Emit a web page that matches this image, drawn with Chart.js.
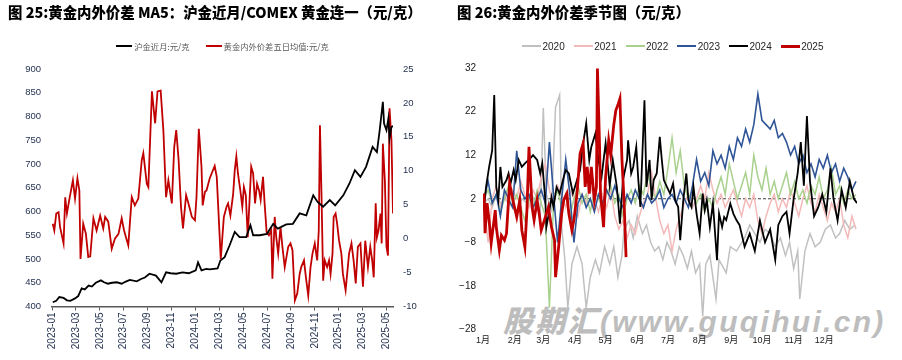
<!DOCTYPE html>
<html><head><meta charset="utf-8">
<script src="https://cdn.jsdelivr.net/npm/chart.js@4.4.1/dist/chart.umd.min.js"></script>
<style>
html,body{margin:0;padding:0;background:#fff;width:902px;height:360px;overflow:hidden;font-family:'Noto Sans CJK SC',sans-serif;}
.panel{position:absolute;top:0;height:360px;}
#p1{left:0;width:450px;} #p2{left:450px;width:452px;}
canvas{position:absolute;left:0;top:0;}
.title{position:absolute;top:4px;font-weight:900;font-size:14.4px;line-height:16px;color:#000;white-space:nowrap;font-family:'Noto Sans CJK SC',sans-serif;}
.legend{position:absolute;top:39px;height:14px;display:flex;align-items:center;white-space:nowrap;}
.item{display:flex;align-items:center;}
.swatch{display:inline-block;}
#lg1{left:52px;width:341px;justify-content:center;gap:16px;font-size:8.3px;color:#595959;}
#lg1 .swatch{width:16px;height:2px;margin-right:2px;}
#lg2{left:72px;gap:9px;font-size:10px;color:#262626;font-family:'Liberation Sans Narrow','Liberation Sans',sans-serif;}
#lg2 .swatch{width:19px;margin-right:1.5px;}
.wm{position:absolute;left:53px;top:304px;font-family:'Liberation Sans','Noto Sans CJK SC',sans-serif;font-weight:900;font-style:italic;font-size:30px;line-height:36px;letter-spacing:2.3px;color:#bdbdbd;white-space:nowrap;}
</style>
</head><body>
<div class="panel" id="p1">
  <canvas id="c1" width="450" height="360"></canvas>
  <div class="title" style="left:8px;">图 25:黄金内外价差 MA5：沪金近月/COMEX 黄金连一（元/克）</div>
  <div class="legend" id="lg1"></div>
</div>
<div class="panel" id="p2">
  <div class="wm">股期汇(www.guqihui.cn)</div>
  <canvas id="c2" width="452" height="360"></canvas>
  <div class="title" style="left:7px;">图 26:黄金内外价差季节图（元/克）</div>
  <div class="legend" id="lg2"></div>
</div>
<script>
// ---------- Left chart data ----------
const leftXTicks = ['2023-01','2023-03','2023-05','2023-07','2023-09','2023-11','2024-01','2024-03','2024-05','2024-07','2024-09','2024-11','2025-01','2025-03','2025-05'];
const leftYTicks = [400,450,500,550,600,650,700,750,800,850,900];
const rightYTicks = [-10,-5,0,5,10,15,20,25];
const leftXEnd = '2025-05-18';

const goldDates = ['2023-01-03','2023-01-12','2023-01-20','2023-01-31','2023-02-08','2023-02-16','2023-02-27','2023-03-07','2023-03-16','2023-03-24',
'2023-04-03','2023-04-11','2023-04-21','2023-05-04','2023-05-12','2023-05-22','2023-06-02','2023-06-14','2023-06-26','2023-07-05',
'2023-07-17','2023-08-04','2023-08-15','2023-08-25','2023-09-06','2023-09-22','2023-10-06','2023-10-18','2023-10-30','2023-11-13',
'2023-11-29','2023-12-15','2024-01-02','2024-01-08','2024-01-17','2024-01-29','2024-02-07','2024-02-26','2024-03-04','2024-03-15',
'2024-03-28','2024-04-10','2024-04-22','2024-05-09','2024-05-20','2024-05-27','2024-06-13','2024-07-01','2024-07-17','2024-07-29',
'2024-08-20','2024-09-06','2024-09-23','2024-10-10','2024-10-28','2024-11-08','2024-11-22','2024-12-09','2024-12-23','2025-01-13',
'2025-01-29','2025-02-11','2025-02-24','2025-03-10','2025-03-27','2025-04-07','2025-04-14','2025-04-22','2025-04-25','2025-05-01',
'2025-05-06','2025-05-09','2025-05-14','2025-05-19'];
const goldPrice = [409,412,420,418,413,412,417,422,438,436,
444,442,450,455,451,448,450,451,448,452,
456,453,458,461,469,465,451,472,470,469,
472,470,476,493,476,479,478,480,497,504,
529,557,546,546,571,550,550,553,574,564,
573,574,596,592,634,620,610,624,613,634,
659,687,673,694,736,725,771,831,785,771,
796,754,778,780];

const spreadDates = ['2023-01-03','2023-01-07','2023-01-12','2023-01-18','2023-01-22','2023-01-31','2023-02-04','2023-02-08','2023-02-14','2023-02-22',
'2023-02-27','2023-03-05','2023-03-10','2023-03-13','2023-03-20','2023-03-27','2023-04-02','2023-04-07','2023-04-15','2023-04-23',
'2023-05-02','2023-05-10','2023-05-15','2023-05-23','2023-06-01','2023-06-09','2023-06-18','2023-06-26','2023-07-02','2023-07-13',
'2023-07-22','2023-07-30','2023-08-08','2023-08-17','2023-08-21','2023-08-30','2023-09-03','2023-09-12','2023-09-20','2023-09-26',
'2023-10-04','2023-10-11','2023-10-18','2023-10-24','2023-11-02','2023-11-08','2023-11-13','2023-11-19','2023-11-25','2023-11-30',
'2023-12-08','2023-12-14','2023-12-23','2023-12-31','2024-01-04','2024-01-10','2024-01-17','2024-01-20','2024-01-26','2024-01-30',
'2024-02-07','2024-02-19','2024-02-24','2024-03-05','2024-03-13','2024-03-20','2024-03-24','2024-03-30','2024-04-06','2024-04-10',
'2024-04-14','2024-04-18','2024-04-24','2024-04-29','2024-05-03','2024-05-08','2024-05-13','2024-05-22','2024-05-27','2024-06-01',
'2024-06-06','2024-06-11','2024-06-15','2024-06-21','2024-06-25','2024-06-30','2024-07-06','2024-07-12','2024-07-15','2024-07-21',
'2024-07-25','2024-07-30','2024-08-05','2024-08-10','2024-08-16','2024-08-25','2024-08-31','2024-09-05','2024-09-11','2024-09-17',
'2024-09-23','2024-09-27','2024-10-04','2024-10-09','2024-10-15','2024-10-21','2024-10-26','2024-11-01','2024-11-07','2024-11-11',
'2024-11-14','2024-11-18','2024-11-22','2024-11-26','2024-12-02','2024-12-07','2024-12-11','2024-12-16','2024-12-19','2024-12-24',
'2024-12-28','2025-01-02','2025-01-08','2025-01-12','2025-01-19','2025-01-28','2025-02-03','2025-02-08','2025-02-13','2025-02-18',
'2025-02-24','2025-03-02','2025-03-08','2025-03-15','2025-03-21','2025-03-26','2025-03-30','2025-04-04','2025-04-07','2025-04-11',
'2025-04-16','2025-04-19','2025-04-22','2025-04-27','2025-05-01','2025-05-05','2025-05-09','2025-05-14','2025-05-18','2025-05-20'];
const spreadMA5 = [2.2,1.2,3.7,3.9,1.7,-0.7,6.1,3.7,5.9,8.6,
5.9,8.9,7.1,-3.0,2.2,0.7,-2.7,-2.6,3.0,1.2,
3.4,1.5,3.2,2.5,-1.5,0.0,0.7,3.0,1.2,-1.0,
6.1,4.9,5.9,11.6,12.6,8.1,7.6,21.7,17.0,21.7,
21.8,16.0,6.1,8.6,5.2,13.5,16.0,11.6,4.7,1.5,
6.4,5.2,3.2,2.7,6.1,16.2,10.6,4.9,6.9,7.1,
8.9,10.7,9.1,-3.0,3.2,4.7,5.2,3.4,6.6,10.1,
12.1,9.6,7.1,4.7,7.6,6.4,0.2,10.6,9.6,5.2,
8.1,7.1,5.7,9.1,5.2,1.0,0.5,1.2,-5.9,3.2,
0.2,-2.2,1.7,-1.2,-4.2,-1.2,-0.7,-1.7,-9.1,-8.1,
-5.2,-4.2,-3.2,-5.7,-8.4,-4.2,-2.2,-0.7,-3.2,1.2,
16.7,6.1,-6.2,-3.2,-4.2,-3.2,-5.2,-2.2,3.2,3.7,
2.2,-0.3,-2.2,-5.2,-7.6,-2.2,-0.7,-3.2,-6.6,-1.2,
-0.7,-7.1,-0.3,-4.2,-1.2,-3.2,-5.7,5.2,0.2,1.2,
3.7,-0.7,14.0,8.6,-1.2,-2.5,19.2,14.5,3.7,6.1];

// ---------- Right (seasonal) chart data ----------
const seasonYTicks = [-28,-18,-8,2,12,22,32];
const monthLabels = ['1月','2月','3月','4月','5月','6月','7月','8月','9月','10月','11月','12月'];
const monthStartDays = [0,31,59,90,120,151,181,212,243,273,304,334];
const refLevel = 2;

const d2020 = [1,5,9,13,17,21,25,33,38,43,48,52,56,59,62,67,71,75,77,80,83,87,92,97,101,105,110,114,119,124,128,132,136,138,143,147,151,156,160,164,168,172,176,180,184,188,192,196,200,204,208,212,215,218,222,228,231,238,242,248,256,261,266,271,276,281,286,291,296,300,304,308,310,315,320,325,330,335,340,345,349,354,359,364];
const v2020 = [1,2,0,3,1,2,1,-1,2,1,3,0,-2,22.8,3,-0.6,23,25.8,-4.5,-11.6,-23,-13,-9,-13,-23,-16,-12,-15,-9,-13,-9,-16,-11,-5,-3,-7,-2,-6,-4,-8,-10,-9,-12,-8,-10,-13,-9,-11,-14,-10,-15,-13,-25,-13,-11,-21,-12,-15,-9,-10,-7,-4,-6,-8,-5,-6,-9,-7,-11,-8,-14,-10,-21,-10,-6,-9,-8,-5,-4,-7,-6,-3,-5,-4];

const v2021 = [1,-8,2,5,0,3,1,4,2,6, 3,0,4,2,7,10,4,1,5,3, 0,4,2,-2,3,1,5,2,-1,3, 0,4,-2,-5,-3,-7,-4,-6,-2,1,
3,8,2,-3,-6,-4,-10,-5,-2,1, 3,0,2,5,2,8,4,1,3,0, 2,4,1,-2,2,0,3,-3,-6,-2, 1,3,-1,2,0,4,1,-2,2,5, 1,-1,3,0,-3,1,-1,2,-4,-7, -2,-5];
const v2022 = [2,4,1,3,-1,2,5,1,3,0, -3,2,0,4,1,-2,-23,1,4,0, 3,-2,2,5,1,3,-1,4,2,0, 3,5,1,3,-2,2,4,1,5,3,
8,4,2,6,3,9,16,8,13,5, 2,4,1,3,-1,2,0,4,7,3, 10,6,2,5,8,3,12,7,4,9, 3,6,2,5,8,3,6,2,4,1, 5,3,7,2,4,9,3,5,1,4, 2,3];
const v2023 = [2,6,1,3,-2,4,2,0,13,4, 2,3,0,2,4,1,15,3,-8,2, 11,3,-8,1,3,0,2,-1,3,1, 4,2,5,2,0,3,1,4,2,0,
3,1,2,4,0,2,3,1,4,2, 0,5,11,6,8,5,13,10,12,9, 14,11,16,14,18,15,19,26,20,19, 18,20,16,17,15,12,14,10,12,8, 10,7,11,9,12,8,10,6,9,7, 4,6];

const d2024 = [1,3,6,9,11,13,15,17,19,23, 25,27,30,32,35,38,41,46,49,53, 56,58,61,62,65,67,69,72,75,79, 81,84,88,92,95,98,101,104,106,110,
113,116,120,124,127,131,134,137,141,142, 145,147,150,152,154,156,158,160,163,165, 167,170,173,175,177,180,183,186,188,191, 193,196,199,201,204,206,209,212,215,217,
219,222,225,229,231,234,236,238,242,245, 248,251,256,261,266,271,276,281,286,289, 293,297,300,304,308,311,314,317,320,324, 328,332,336,340,343,347,351,355,359,363, 366];
const v2024 = [0.1,4.7,9.3,13.1,25.8,4.7,1.7,9.3,4.7,6.3, 7.8,5.5,8.6,6.3,10.9,9.3,10.1,11.2,12,10.9, 7.8,10.1,1.7,-4.5,-0.6,2.4,0.1,4.7,3.2,7, 8.6,7.8,3.2,6.3,8.6,14.7,19.3,10.9,13.9,17,
10.9,7,14.7,5,10.9,4.7,-3.7,6.3,10.9,15.4, 7.8,9.3,13.9,6.3,0.1,12.4,24.6,4.7,10.9,1.7, 6.3,7.8,16.2,10.9,6.3,4.7,3.2,5.5,1.7,0.1, -7.5,1.7,7.8,1.7,0.1,4.7,-1.4,-6,3.2,-0.6,
1.7,-4.5,0.9,-12.1,-1.4,-4.5,-2.2,-2.9,0.9,-1.4, -2.9,-4,-9,-6,-10,-3,-8,-5,-12,-4, -2,-1,-6,2,8,15,5,21,6,-2, 0,3,-1,9,2,-3,4,0,6,2, 1];

const d2025 = [1,2,4,6,8,12,13,16,18,21, 23,26,30,33,36,38,41,43,45,48, 50,53,55,57,61,64,67,70,71,74, 77,79,82,84,87,89,92,95,98,100, 102,104,106,109,111,112,114,115,118,120, 123,125,128,130,132,134,136,138,140];
const v2025 = [3.2,-5.9,1,-3,-8.2,-0.6,-4.5,-9.8,-6.4,-7.5, -6,5.5,0.9,-2.2,1.7,-5.2,-9.1,-0.6,13.9,0.1, -2.9,1.7,-1.4,-5.2,-2.2,0.1,-4.5,-7.5,-16,-9.1, -1.4,1.7,3.2,-1.4,-5.2,-2.9,3.2,12.4,14.7,4.7, 9.3,3.2,9.3,1.7,4.7,31.9,14.7,3.2,-4.5,7, 15.4,12,19,22.3,23.5,25,10.9,1.7,-11.4];

// ---------- helpers ----------
function monthIndex(s){
  const p = s.split('-').map(Number);
  const y = p[0], m = p[1], d = p.length > 2 ? p[2] : 1;
  const dim = new Date(y, m, 0).getDate();
  return (y - 2023) * 12 + (m - 1) + (d - 1) / dim;
}
function zip(xs, ys, fx){ const n = Math.min(xs.length, ys.length); const out=[]; for(let i=0;i<n;i++) out.push({x: fx ? fx(xs[i]) : xs[i], y: ys[i]}); return out; }
const grid4 = v2021.map((_, i) => 1 + 4 * i);

const narrow = "'Liberation Sans Narrow','Liberation Sans','Noto Sans CJK SC',sans-serif";

// ---------- Left chart ----------
new Chart(document.getElementById('c1'), {
  type: 'line',
  data: { datasets: [
    { label: '沪金近月:元/克', data: zip(goldDates, goldPrice, monthIndex), borderColor: '#000000', backgroundColor:'#000000', borderWidth: 1.8, pointRadius: 0, yAxisID: 'yL', order: 0 },
    { label: '黄金内外价差五日均值:元/克', data: zip(spreadDates, spreadMA5, monthIndex), borderColor: '#c00000', backgroundColor:'#c00000', borderWidth: 1.8, pointRadius: 0, yAxisID: 'yR', order: 1 }
  ]},
  options: {
    responsive: false, animation: false, devicePixelRatio: 1,
    layout: { padding: { top: 69, left: 0, right: 0, bottom: 0 } },
    plugins: { legend: { display: false }, tooltip: { enabled: false } },
    scales: {
      x: { type: 'linear', position: 'bottom', min: 0, max: monthIndex(leftXEnd),
        afterBuildTicks: s => { s.ticks = leftXTicks.map(t => ({ value: monthIndex(t) })); },
        ticks: { autoSkip: false, minRotation: 90, maxRotation: 90, padding: 2, color: '#1f2d4d',
          font: { family: narrow, size: 10 }, callback: (v, i) => leftXTicks[i] },
        grid: { drawOnChartArea: false, drawTicks: true, tickLength: 4, color: '#595959', lineWidth: 1 },
        border: { display: true, color: '#595959', width: 1.5 },
        afterFit: s => { s.height = 53.5; } },
      yL: { type: 'linear', position: 'left', min: leftYTicks[0], max: leftYTicks[leftYTicks.length-1],
        afterBuildTicks: s => { s.ticks = leftYTicks.map(v => ({ value: v })); },
        ticks: { padding: 11, color: '#1f2d4d', font: { family: narrow, size: 9.5 } },
        grid: { display: false, drawTicks: false }, border: { display: false },
        afterFit: s => { s.width = 52; } },
      yR: { type: 'linear', position: 'right', min: rightYTicks[0], max: rightYTicks[rightYTicks.length-1],
        afterBuildTicks: s => { s.ticks = rightYTicks.map(v => ({ value: v })); },
        ticks: { padding: 10, color: '#1f2d4d', font: { family: narrow, size: 9.5 } },
        grid: { display: false, drawTicks: false }, border: { display: false },
        afterFit: s => { s.width = 57; } }
    }
  }
});

// ---------- Right chart ----------
const seasons = [
  { label: '2020', data: zip(d2020, v2020), color: '#c0c0c0', width: 1.5 },
  { label: '2021', data: zip(grid4, v2021), color: '#f4b9b9', width: 1.5 },
  { label: '2022', data: zip(grid4, v2022), color: '#a9d18e', width: 1.5 },
  { label: '2023', data: zip(grid4, v2023), color: '#2f5597', width: 1.6 },
  { label: '2024', data: zip(d2024, v2024), color: '#000000', width: 1.8 },
  { label: '2025', data: zip(d2025, v2025), color: '#c00000', width: 2.8 }
];
const sDatasets = seasons.map((s, i) => ({
  label: s.label, data: s.data, borderColor: s.color, backgroundColor: s.color,
  borderWidth: s.width, pointRadius: 0, order: seasons.length - i
}));
sDatasets.push({ label: 'ref', data: [{x: 0, y: refLevel}, {x: 366, y: refLevel}], borderColor: '#404040',
  borderWidth: 1, borderDash: [3, 2], pointRadius: 0, order: 20 });

new Chart(document.getElementById('c2'), {
  type: 'line',
  data: { datasets: sDatasets },
  options: {
    responsive: false, animation: false, devicePixelRatio: 1,
    layout: { padding: { top: 68, left: 0, right: 45, bottom: 0 } },
    plugins: { legend: { display: false }, tooltip: { enabled: false } },
    scales: {
      x: { type: 'linear', min: 0, max: 366,
        afterBuildTicks: s => { s.ticks = monthStartDays.map(v => ({ value: v })); },
        ticks: { autoSkip: false, maxRotation: 0, minRotation: 0, padding: 6, color: '#1a1a1a',
          font: { family: narrow, size: 9 }, callback: (v, i) => monthLabels[i] },
        grid: { display: false, drawTicks: false }, border: { display: false },
        afterFit: s => { s.height = 30.5; } },
      y: { type: 'linear', min: seasonYTicks[0], max: seasonYTicks[seasonYTicks.length-1],
        afterBuildTicks: s => { s.ticks = seasonYTicks.map(v => ({ value: v })); },
        ticks: { padding: 7, color: '#1a1a1a', font: { family: narrow, size: 10 },
          callback: v => (v < 0 ? '\u2212' + Math.abs(v) : String(v)) },
        grid: { display: false, drawTicks: false }, border: { display: false },
        afterFit: s => { s.width = 33; } }
    }
  }
});

// ---------- HTML legends ----------
const lg1 = document.getElementById('lg1');
[['沪金近月:元/克', '#000000'], ['黄金内外价差五日均值:元/克', '#c00000']].forEach(([t, c]) => {
  const it = document.createElement('div'); it.className = 'item';
  const sw = document.createElement('span'); sw.className = 'swatch'; sw.style.background = c;
  const tx = document.createElement('span'); tx.textContent = t;
  it.appendChild(sw); it.appendChild(tx); lg1.appendChild(it);
});
const lg2 = document.getElementById('lg2');
seasons.forEach(s => {
  const it = document.createElement('div'); it.className = 'item';
  const sw = document.createElement('span'); sw.className = 'swatch'; sw.style.background = s.color;
  sw.style.height = (s.width > 2 ? 3 : 2) + 'px';
  const tx = document.createElement('span'); tx.textContent = s.label;
  it.appendChild(sw); it.appendChild(tx); lg2.appendChild(it);
});
</script>
</body></html>
